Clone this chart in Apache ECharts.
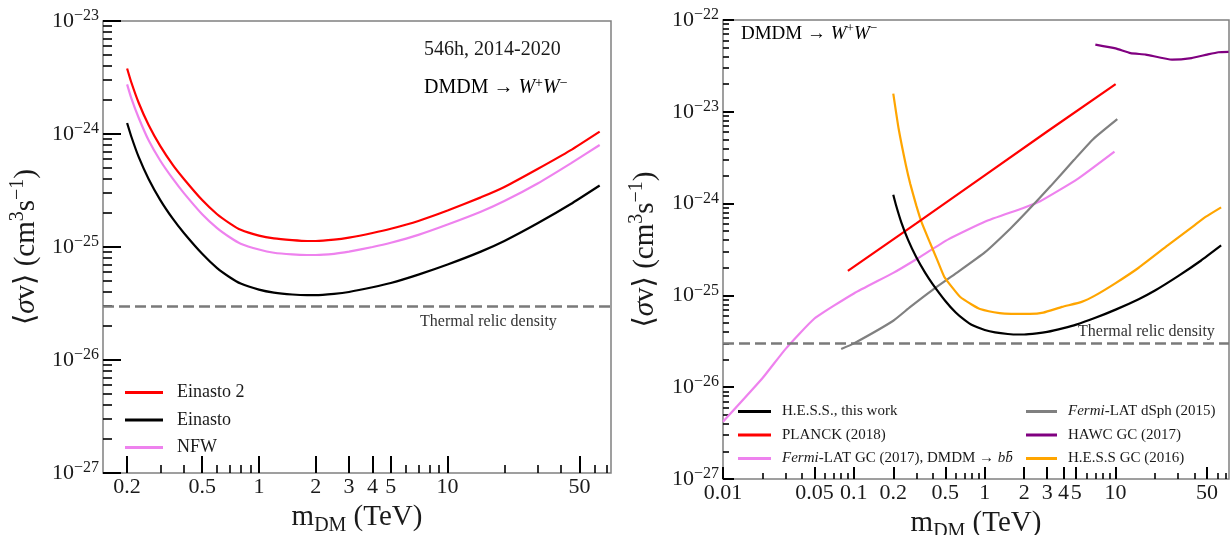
<!DOCTYPE html>
<html><head><meta charset="utf-8">
<script src="https://cdn.jsdelivr.net/npm/echarts@6/dist/echarts.min.js"></script>
<style>html,body{margin:0;padding:0;background:#fff}#c{width:1232px;height:535px}</style>
</head><body><div id="c"></div>
<script>
// ---------- data, <σv> in cm^3 s^-1, mass in TeV ----------
const leftMass = [0.2, 0.21, 0.23, 0.26, 0.3, 0.35, 0.4, 0.5, 0.6, 0.7, 0.8, 1, 1.2, 1.5, 1.8, 2, 2.5, 3, 4, 5, 7, 10, 15, 20, 30, 45, 64];
const einasto2 = [3.8e-24, 2.9e-24, 1.9e-24, 1.2e-24, 7.8e-25, 5.3e-25, 4.0e-25, 2.6e-25, 1.95e-25, 1.62e-25, 1.42e-25, 1.26e-25, 1.19e-25, 1.15e-25, 1.13e-25, 1.13e-25, 1.16e-25, 1.21e-25, 1.33e-25, 1.45e-25, 1.7e-25, 2.1e-25, 2.75e-25, 3.4e-25, 4.9e-25, 7.2e-25, 1.05e-24];
const nfw = [2.75e-24, 2.1e-24, 1.4e-24, 8.8e-25, 5.8e-25, 4.0e-25, 3.0e-25, 1.95e-25, 1.47e-25, 1.22e-25, 1.07e-25, 9.5e-26, 8.9e-26, 8.6e-26, 8.5e-26, 8.5e-26, 8.7e-26, 9.1e-26, 1.0e-25, 1.09e-25, 1.28e-25, 1.58e-25, 2.05e-25, 2.55e-25, 3.65e-25, 5.5e-25, 8.0e-25];
const einasto = [1.25e-24, 9.6e-25, 6.3e-25, 4.0e-25, 2.6e-25, 1.77e-25, 1.33e-25, 8.7e-26, 6.5e-26, 5.4e-26, 4.75e-26, 4.2e-26, 3.95e-26, 3.8e-26, 3.75e-26, 3.75e-26, 3.85e-26, 4.0e-26, 4.4e-26, 4.8e-26, 5.7e-26, 7.0e-26, 9.1e-26, 1.13e-25, 1.62e-25, 2.4e-25, 3.5e-25];

const planckMass = [0.09, 0.3, 1, 3, 10];
const planck = [1.85e-25, 6.1e-25, 2.03e-24, 6.1e-24, 2.0e-23];

const dsphMass = [0.08, 0.1, 0.2, 0.27, 0.4, 0.61, 1, 1.58, 2.1, 3.2, 4.8, 6.7, 10.3];
const dsph = [2.6e-26, 3.0e-26, 5.3e-26, 7.5e-26, 1.15e-25, 1.76e-25, 2.94e-25, 5.4e-25, 8.2e-25, 1.56e-24, 2.98e-24, 5.0e-24, 8.3e-24];

const fermiGCMass = [0.01, 0.02, 0.03, 0.05, 0.1, 0.2, 0.3, 0.53, 1, 1.95, 2.65, 5.1, 9.8];
const fermiGC = [4.2e-27, 1.25e-26, 2.6e-26, 5.6e-26, 1.05e-25, 1.76e-25, 2.48e-25, 4.1e-25, 6.35e-25, 8.9e-25, 1.06e-24, 1.85e-24, 3.69e-24];

const hawcMass = [7, 10, 13, 17, 27, 38, 50, 61, 73];
const hawc = [5.4e-23, 4.9e-23, 4.35e-23, 4.2e-23, 3.7e-23, 3.85e-23, 4.2e-23, 4.45e-23, 4.5e-23];

const hessGCMass = [0.2, 0.22, 0.25, 0.27, 0.3, 0.33, 0.38, 0.43, 0.49, 0.57, 0.65, 0.8, 0.92, 1.3, 1.6, 2.2, 2.8, 3.9, 5.5, 7, 10, 15, 25, 40, 49, 64];
const hessGC = [1.58e-23, 6.5e-24, 2.6e-24, 1.63e-24, 9.5e-25, 6.2e-25, 3.8e-25, 2.5e-25, 1.6e-25, 1.2e-25, 9.6e-26, 7.9e-26, 7.1e-26, 6.4e-26, 6.3e-26, 6.3e-26, 6.5e-26, 7.5e-26, 8.5e-26, 1.0e-25, 1.36e-25, 2.0e-25, 3.5e-25, 5.8e-25, 7.2e-25, 9.1e-25];

const thermalRelic = 3e-26;

// ticks
const leftXMajor = [0.2, 0.5, 1, 2, 3, 4, 5, 10, 50];
const leftXMinor = [0.3, 0.4, 0.6, 0.7, 0.8, 0.9, 6, 7, 8, 9, 20, 30, 40, 60, 70];
const rightXMajor = [0.01, 0.05, 0.1, 0.2, 0.5, 1, 2, 3, 4, 5, 10, 50];
const rightXMinor = [0.02, 0.03, 0.04, 0.06, 0.07, 0.08, 0.09, 0.3, 0.4, 0.6, 0.7, 0.8, 0.9, 6, 7, 8, 9, 20, 30, 40, 60, 70];
const leftYExp = [-27, -26, -25, -24, -23];
const rightYExp = [-27, -26, -25, -24, -23, -22];

// ---------- helpers ----------
// The chart works in units of 1e-27 cm^3 s^-1 (avoids float rounding of tiny numbers); labels show true powers.
const UNIT_EXP = -27;
const toUnit = v => v * Math.pow(10, -UNIT_EXP);
const FF = "'Liberation Serif','DejaVu Serif',serif";
const TXT = '#1a1a1a';
const pairs = (xs, ys) => xs.map((x, i) => [x, toUnit(ys[i])]);
const unitPow = e => Math.pow(10, e - UNIT_EXP);
const decadeMinors = (exps) => {
  const out = [];
  for (let k = 0; k < exps.length - 1; k++) for (let m = 2; m <= 9; m++) out.push(m * unitPow(exps[k]));
  return out;
};
const yRich = {
  b: { fontSize: 22, fontFamily: FF, color: TXT, lineHeight: 26 },
  s: { fontSize: 16, fontFamily: FF, color: TXT, verticalAlign: 'top', lineHeight: 16 }
};
const yFmt = v => '{b|10}{s|−' + Math.abs(Math.round(Math.log10(v)) + UNIT_EXP) + '}';
const titleRich = {
  n: { fontSize: 29, fontFamily: FF, color: TXT, lineHeight: 36 },
  i: { fontSize: 29, fontFamily: FF, fontStyle: 'italic', color: TXT, lineHeight: 36 },
  sub: { fontSize: 20, fontFamily: FF, color: TXT, verticalAlign: 'bottom', lineHeight: 20 },
  sup: { fontSize: 20, fontFamily: FF, color: TXT, verticalAlign: 'top', lineHeight: 20 }
};
const xName = '{n|m}{sub|DM}{n| (TeV)}';
const yName = '{n|⟨}{i|σ}{n|v⟩ (cm}{sup|3}{n|s}{sup|−1}{n|)}';

function xAxes(grid, min, max, major, minor, longLen, shortLen) {
  return [
    { type: 'log', gridIndex: grid, min, max, logBase: 10, position: 'bottom',
      axisLine: { show: false }, splitLine: { show: false },
      axisTick: { show: true, inside: true, length: longLen, customValues: major, lineStyle: { color: '#000', width: 2 } },
      axisLabel: { customValues: major, fontSize: 22, fontFamily: FF, color: TXT, margin: 3,
        formatter: v => String(+v.toPrecision(3)) },
      name: xName, nameLocation: 'middle', nameGap: 20, nameTextStyle: { rich: titleRich } },
    { type: 'log', gridIndex: grid, min, max, logBase: 10, position: 'bottom', offset: 0,
      axisLine: { show: false }, splitLine: { show: false },
      axisTick: { show: true, inside: true, length: shortLen, customValues: minor, lineStyle: { color: '#000', width: 1.6 } },
      axisLabel: { show: false } }
  ];
}
function yAxes(grid, exps, longLen, shortLen, gap) {
  const major = exps.map(unitPow);
  return [
    { type: 'log', gridIndex: grid, min: major[0], max: major[major.length - 1], logBase: 10, position: 'left',
      axisLine: { show: false }, splitLine: { show: false },
      axisTick: { show: true, inside: true, length: longLen, customValues: major, lineStyle: { color: '#000', width: 2 } },
      axisLabel: { customValues: major, formatter: yFmt, rich: yRich, margin: 4 },
      name: yName, nameLocation: 'middle', nameGap: gap, nameRotate: 90, nameTextStyle: { rich: titleRich } },
    { type: 'log', gridIndex: grid, min: major[0], max: major[major.length - 1], logBase: 10, position: 'left', offset: 0,
      axisLine: { show: false }, splitLine: { show: false },
      axisTick: { show: true, inside: true, length: shortLen, customValues: decadeMinors(exps), lineStyle: { color: '#000', width: 1.6 } },
      axisLabel: { show: false } }
  ];
}

const line = (name, data, color, xi, yi, extra) => Object.assign({
  name, type: 'line', data, xAxisIndex: xi, yAxisIndex: yi, showSymbol: false, symbol: 'none',
  smooth: 0.15, lineStyle: { color, width: 2.2 }, itemStyle: { color }, z: 3, animation: false
}, extra || {});

const thermalMark = {
  silent: true, symbol: 'none', animation: false,
  lineStyle: { color: '#7a7a7a', width: 2.6, type: [11, 5] },
  label: { show: false },
  data: [{ yAxis: toUnit(thermalRelic) }]
};

const legRich = {
  i: { fontStyle: 'italic', fontFamily: FF, fontSize: 15, color: TXT }
};
const legFmt = name => name.replace('Fermi', '{i|Fermi}').replace('b b̄', '{i|b}{i|b̄}');

const gridBase = { show: true, borderColor: '#808080', borderWidth: 1.5, backgroundColor: 'transparent', containLabel: false, outerBoundsMode: 'none' };
const option = {
  animation: false,
  backgroundColor: '#fff',
  grid: [
    Object.assign({ left: 103, top: 21, width: 508, height: 452 }, gridBase),
    Object.assign({ left: 723, top: 20, width: 506, height: 459 }, gridBase)
  ],
  xAxis: [
    ...xAxes(0, 0.149, 73.5, leftXMajor, leftXMinor, 17, 8),
    ...xAxes(1, 0.01, 73.5, rightXMajor, rightXMinor, 12, 6)
  ],
  yAxis: [
    ...yAxes(0, leftYExp, 18, 9, 59),
    ...yAxes(1, rightYExp, 11, 6, 60)
  ],
  legend: [
    { data: ['Einasto 2', 'Einasto', 'NFW'], orient: 'vertical', left: 120, top: 377, itemGap: 6.5,
      itemWidth: 38, itemHeight: 3, icon: 'rect',
      textStyle: { fontSize: 18, fontFamily: FF, color: TXT, lineHeight: 21, padding: [0, 0, 0, 9] } },
    { data: ['H.E.S.S., this work', 'PLANCK (2018)', 'Fermi-LAT GC (2017), DMDM → b b̄'], orient: 'vertical', left: 733, top: 397, itemGap: 4.5,
      itemWidth: 33, itemHeight: 3, icon: 'rect', formatter: legFmt,
      textStyle: { fontSize: 15, fontFamily: FF, color: TXT, lineHeight: 19, padding: [0, 0, 0, 6], rich: legRich } },
    { data: ['Fermi-LAT dSph (2015)', 'HAWC GC (2017)', 'H.E.S.S GC (2016)'], orient: 'vertical', left: 1021, top: 397, itemGap: 4.5,
      itemWidth: 31, itemHeight: 3, icon: 'rect', formatter: legFmt,
      textStyle: { fontSize: 15, fontFamily: FF, color: TXT, lineHeight: 19, padding: [0, 0, 0, 6], rich: legRich } }
  ],
  series: [
    line('Einasto 2', pairs(leftMass, einasto2), '#ff0000', 0, 0),
    line('Einasto', pairs(leftMass, einasto), '#000000', 0, 0, { markLine: thermalMark }),
    line('NFW', pairs(leftMass, nfw), '#ee82ee', 0, 0),
    line('Fermi-LAT GC (2017), DMDM → b b̄', pairs(fermiGCMass, fermiGC), '#ee82ee', 2, 2, { markLine: thermalMark }),
    line('Fermi-LAT dSph (2015)', pairs(dsphMass, dsph), '#808080', 2, 2),
    line('HAWC GC (2017)', pairs(hawcMass, hawc), '#800080', 2, 2),
    line('H.E.S.S GC (2016)', pairs(hessGCMass, hessGC), '#ffa500', 2, 2),
    line('PLANCK (2018)', pairs(planckMass, planck), '#ff0000', 2, 2, { smooth: false }),
    line('H.E.S.S., this work', pairs(leftMass, einasto), '#000000', 2, 2)
  ],
  graphic: [
    { type: 'text', x: 424, y: 50, style: { text: '546h, 2014-2020', fontSize: 20, fontFamily: FF, fill: TXT, verticalAlign: 'middle' } },
    { type: 'text', x: 424, y: 88, style: { text: '{n|DMDM → }{i|W}{s|+}{i|W}{s|−}', verticalAlign: 'middle',
      rich: { n: { fontSize: 20, fontFamily: FF, color: TXT, lineHeight: 24 }, i: { fontSize: 20, fontFamily: FF, fontStyle: 'italic', color: TXT, lineHeight: 24 }, s: { fontSize: 14, fontFamily: FF, color: TXT, verticalAlign: 'top', lineHeight: 14 } } } },
    { type: 'text', x: 741, y: 34, style: { text: '{n|DMDM → }{i|W}{s|+}{i|W}{s|−}', verticalAlign: 'middle',
      rich: { n: { fontSize: 19, fontFamily: FF, color: TXT, lineHeight: 23 }, i: { fontSize: 19, fontFamily: FF, fontStyle: 'italic', color: TXT, lineHeight: 23 }, s: { fontSize: 13, fontFamily: FF, color: TXT, verticalAlign: 'top', lineHeight: 13 } } } },
    { type: 'text', x: 420, y: 322, style: { text: 'Thermal relic density', fontSize: 16, fontFamily: FF, fill: '#333', verticalAlign: 'middle' } },
    { type: 'text', x: 1078, y: 332, style: { text: 'Thermal relic density', fontSize: 16, fontFamily: FF, fill: '#333', verticalAlign: 'middle' } }
  ]
};
const chart = echarts.init(document.getElementById('c'), null, { renderer: 'canvas' });
chart.setOption(option);
</script></body></html>
